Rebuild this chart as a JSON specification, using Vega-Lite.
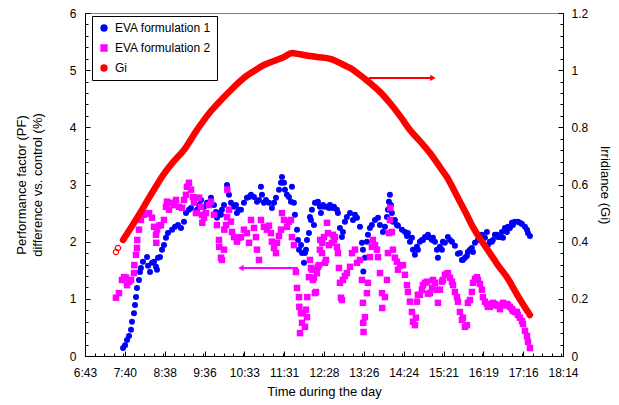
{
  "$schema": "https://vega.github.io/schema/vega-lite/v6.json",
  "width": 478,
  "height": 343,
  "autosize": "none",
  "padding": {"left": 85, "top": 13, "right": 56, "bottom": 49},
  "background": "white",
  "config": {
    "view": {"stroke": "#808080", "strokeWidth": 1},
    "font": "Liberation Sans",
    "axis": {
      "labelFont": "Liberation Sans",
      "titleFont": "Liberation Sans",
      "labelColor": "black",
      "titleColor": "black",
      "domainColor": "black",
      "tickColor": "black",
      "grid": false,
      "labelFontSize": 12,
      "titleFontSize": 13,
      "titleFontWeight": "normal",
      "labelOverlap": false,
      "labelFlush": false
    }
  },
  "datasets": {
    "eva1": [
      {"t":0.3182,"v":0.14},{"t":0.3202,"v":0.19},{"t":0.3222,"v":0.28},{"t":0.3242,"v":0.35},{"t":0.3262,"v":0.46},{"t":0.3272,"v":0.60},{"t":0.3292,"v":0.75},{"t":0.3302,"v":0.89},{"t":0.3312,"v":1.03},{"t":0.3322,"v":1.19},{"t":0.3342,"v":1.33},{"t":0.3352,"v":1.47},{"t":0.3362,"v":1.54},{"t":0.3382,"v":1.65},{"t":0.3423,"v":1.73},{"t":0.3433,"v":1.58},{"t":0.3453,"v":1.47},{"t":0.3473,"v":1.63},{"t":0.3493,"v":1.65},{"t":0.3513,"v":1.56},{"t":0.3523,"v":1.51},{"t":0.3533,"v":1.72},{"t":0.3553,"v":1.73},{"t":0.3573,"v":1.86},{"t":0.3593,"v":1.94},{"t":0.3613,"v":2.07},{"t":0.3633,"v":2.15},{"t":0.3674,"v":2.21},{"t":0.3704,"v":2.26},{"t":0.3734,"v":2.29},{"t":0.3764,"v":2.24},{"t":0.3794,"v":2.35},{"t":0.3814,"v":2.50},{"t":0.3844,"v":2.56},{"t":0.3864,"v":2.59},{"t":0.3894,"v":2.68},{"t":0.3925,"v":2.56},{"t":0.3945,"v":2.64},{"t":0.3965,"v":2.73},{"t":0.3995,"v":2.61},{"t":0.4025,"v":2.68},{"t":0.4065,"v":2.77},{"t":0.4095,"v":2.64},{"t":0.4115,"v":2.52},{"t":0.4125,"v":2.42},{"t":0.4145,"v":2.50},{"t":0.4165,"v":2.47},{"t":0.4175,"v":2.56},{"t":0.4196,"v":2.64},{"t":0.4226,"v":2.99},{"t":0.4246,"v":2.82},{"t":0.4266,"v":2.68},{"t":0.4296,"v":2.61},{"t":0.4316,"v":2.64},{"t":0.4326,"v":2.50},{"t":0.4346,"v":2.56},{"t":0.4366,"v":2.56},{"t":0.4396,"v":2.68},{"t":0.4426,"v":2.77},{"t":0.4447,"v":2.78},{"t":0.4467,"v":2.82},{"t":0.4497,"v":2.78},{"t":0.4527,"v":2.70},{"t":0.4547,"v":2.73},{"t":0.4567,"v":2.96},{"t":0.4577,"v":2.82},{"t":0.4597,"v":2.68},{"t":0.4617,"v":2.73},{"t":0.4647,"v":2.68},{"t":0.4677,"v":2.59},{"t":0.4698,"v":2.68},{"t":0.4718,"v":2.77},{"t":0.4748,"v":2.91},{"t":0.4768,"v":3.03},{"t":0.4778,"v":3.13},{"t":0.4798,"v":3.03},{"t":0.4808,"v":2.91},{"t":0.4828,"v":2.82},{"t":0.4848,"v":2.78},{"t":0.4868,"v":2.70},{"t":0.4878,"v":2.96},{"t":0.4898,"v":2.68},{"t":0.4908,"v":2.47},{"t":0.4929,"v":2.21},{"t":0.4939,"v":2.03},{"t":0.4949,"v":1.86},{"t":0.4969,"v":1.94},{"t":0.4979,"v":1.80},{"t":0.4999,"v":1.63},{"t":0.5009,"v":1.80},{"t":0.5019,"v":1.86},{"t":0.5029,"v":2.03},{"t":0.5049,"v":2.15},{"t":0.5059,"v":2.43},{"t":0.5069,"v":2.38},{"t":0.5079,"v":2.56},{"t":0.5099,"v":2.29},{"t":0.5109,"v":2.68},{"t":0.5129,"v":2.68},{"t":0.5139,"v":2.70},{"t":0.5159,"v":2.61},{"t":0.5169,"v":2.50},{"t":0.5190,"v":2.64},{"t":0.5200,"v":2.61},{"t":0.5230,"v":2.61},{"t":0.5250,"v":2.59},{"t":0.5260,"v":2.64},{"t":0.5290,"v":2.59},{"t":0.5300,"v":2.61},{"t":0.5330,"v":2.56},{"t":0.5340,"v":2.50},{"t":0.5360,"v":2.24},{"t":0.5380,"v":2.08},{"t":0.5390,"v":2.17},{"t":0.5410,"v":2.35},{"t":0.5430,"v":2.43},{"t":0.5461,"v":2.50},{"t":0.5491,"v":2.38},{"t":0.5511,"v":2.47},{"t":0.5531,"v":2.42},{"t":0.5561,"v":2.26},{"t":0.5581,"v":1.98},{"t":0.5591,"v":1.86},{"t":0.5595,"v":1.48},{"t":0.5611,"v":1.72},{"t":0.5631,"v":2.00},{"t":0.5641,"v":2.12},{"t":0.5661,"v":2.24},{"t":0.5681,"v":2.29},{"t":0.5712,"v":2.38},{"t":0.5742,"v":2.42},{"t":0.5762,"v":2.29},{"t":0.5792,"v":2.17},{"t":0.5812,"v":2.26},{"t":0.5832,"v":2.43},{"t":0.5842,"v":2.56},{"t":0.5852,"v":2.70},{"t":0.5862,"v":2.82},{"t":0.5872,"v":2.64},{"t":0.5882,"v":2.50},{"t":0.5892,"v":2.35},{"t":0.5912,"v":2.38},{"t":0.5932,"v":2.29},{"t":0.5943,"v":2.28},{"t":0.5983,"v":2.21},{"t":0.6013,"v":2.17},{"t":0.6033,"v":2.10},{"t":0.6043,"v":2.15},{"t":0.6063,"v":2.00},{"t":0.6083,"v":2.07},{"t":0.6093,"v":1.86},{"t":0.6113,"v":1.77},{"t":0.6133,"v":1.91},{"t":0.6143,"v":1.86},{"t":0.6163,"v":2.00},{"t":0.6183,"v":2.03},{"t":0.6194,"v":2.03},{"t":0.6214,"v":2.08},{"t":0.6234,"v":2.08},{"t":0.6244,"v":2.12},{"t":0.6264,"v":2.07},{"t":0.6284,"v":2.03},{"t":0.6294,"v":2.07},{"t":0.6314,"v":2.00},{"t":0.6334,"v":1.86},{"t":0.6344,"v":1.72},{"t":0.6364,"v":1.91},{"t":0.6384,"v":1.86},{"t":0.6394,"v":2.00},{"t":0.6414,"v":1.98},{"t":0.6444,"v":2.08},{"t":0.6465,"v":2.03},{"t":0.6485,"v":2.00},{"t":0.6515,"v":1.93},{"t":0.6545,"v":1.79},{"t":0.6565,"v":1.80},{"t":0.6585,"v":1.68},{"t":0.6595,"v":1.68},{"t":0.6615,"v":1.72},{"t":0.6635,"v":1.75},{"t":0.6645,"v":1.82},{"t":0.6665,"v":1.86},{"t":0.6685,"v":1.89},{"t":0.6696,"v":1.82},{"t":0.6716,"v":1.98},{"t":0.6746,"v":2.03},{"t":0.6766,"v":2.08},{"t":0.6786,"v":2.12},{"t":0.6816,"v":2.07},{"t":0.6836,"v":2.17},{"t":0.6846,"v":1.94},{"t":0.6866,"v":2.00},{"t":0.6886,"v":2.00},{"t":0.6896,"v":2.03},{"t":0.6916,"v":2.12},{"t":0.6936,"v":2.12},{"t":0.6946,"v":2.08},{"t":0.6967,"v":2.08},{"t":0.6987,"v":2.17},{"t":0.6997,"v":2.07},{"t":0.7017,"v":2.24},{"t":0.7037,"v":2.17},{"t":0.7047,"v":2.26},{"t":0.7067,"v":2.24},{"t":0.7087,"v":2.33},{"t":0.7097,"v":2.29},{"t":0.7117,"v":2.35},{"t":0.7147,"v":2.35},{"t":0.7167,"v":2.33},{"t":0.7188,"v":2.31},{"t":0.7218,"v":2.26},{"t":0.7238,"v":2.21},{"t":0.7248,"v":2.15},{"t":0.7268,"v":2.10}
    ],
    "eva2": [
      {"t":0.3111,"v":1.02},{"t":0.3141,"v":1.10},{"t":0.3171,"v":1.33},{"t":0.3192,"v":1.38},{"t":0.3212,"v":1.37},{"t":0.3222,"v":1.24},{"t":0.3242,"v":1.30},{"t":0.3262,"v":1.33},{"t":0.3292,"v":1.45},{"t":0.3295,"v":1.59},{"t":0.3312,"v":1.77},{"t":0.3322,"v":1.89},{"t":0.3325,"v":2.03},{"t":0.3342,"v":2.21},{"t":0.3362,"v":2.38},{"t":0.3392,"v":2.47},{"t":0.3423,"v":2.49},{"t":0.3443,"v":2.50},{"t":0.3473,"v":2.42},{"t":0.3493,"v":2.26},{"t":0.3513,"v":2.12},{"t":0.3516,"v":1.98},{"t":0.3523,"v":2.21},{"t":0.3543,"v":2.28},{"t":0.3563,"v":2.29},{"t":0.3593,"v":2.38},{"t":0.3613,"v":2.61},{"t":0.3623,"v":2.70},{"t":0.3643,"v":2.56},{"t":0.3674,"v":2.68},{"t":0.3694,"v":2.64},{"t":0.3714,"v":2.73},{"t":0.3744,"v":2.61},{"t":0.3774,"v":2.59},{"t":0.3794,"v":2.73},{"t":0.3814,"v":2.82},{"t":0.3824,"v":2.96},{"t":0.3844,"v":3.03},{"t":0.3864,"v":2.91},{"t":0.3884,"v":2.78},{"t":0.3894,"v":2.68},{"t":0.3914,"v":2.50},{"t":0.3945,"v":2.77},{"t":0.3965,"v":2.61},{"t":0.3975,"v":2.47},{"t":0.3978,"v":2.33},{"t":0.3995,"v":2.42},{"t":0.4015,"v":2.50},{"t":0.4045,"v":2.64},{"t":0.4065,"v":2.70},{"t":0.4095,"v":2.47},{"t":0.4125,"v":2.29},{"t":0.4145,"v":2.03},{"t":0.4148,"v":1.91},{"t":0.4165,"v":1.72},{"t":0.4175,"v":1.68},{"t":0.4196,"v":1.86},{"t":0.4199,"v":2.21},{"t":0.4216,"v":2.29},{"t":0.4226,"v":2.43},{"t":0.4229,"v":2.91},{"t":0.4246,"v":2.56},{"t":0.4266,"v":2.35},{"t":0.4276,"v":2.17},{"t":0.4296,"v":2.08},{"t":0.4326,"v":2.00},{"t":0.4346,"v":2.07},{"t":0.4366,"v":2.08},{"t":0.4396,"v":2.21},{"t":0.4426,"v":2.15},{"t":0.4447,"v":1.98},{"t":0.4467,"v":2.38},{"t":0.4497,"v":2.24},{"t":0.4517,"v":2.08},{"t":0.4527,"v":1.86},{"t":0.4547,"v":1.68},{"t":0.4567,"v":2.38},{"t":0.4597,"v":2.26},{"t":0.4627,"v":2.21},{"t":0.4647,"v":2.28},{"t":0.4667,"v":2.15},{"t":0.4677,"v":2.00},{"t":0.4698,"v":1.89},{"t":0.4718,"v":1.80},{"t":0.4728,"v":1.98},{"t":0.4748,"v":2.10},{"t":0.4768,"v":2.21},{"t":0.4778,"v":2.50},{"t":0.4798,"v":2.38},{"t":0.4828,"v":2.26},{"t":0.4848,"v":2.35},{"t":0.4868,"v":2.38},{"t":0.4878,"v":2.08},{"t":0.4898,"v":1.94},{"t":0.4918,"v":1.47},{"t":0.4929,"v":1.19},{"t":0.4949,"v":1.03},{"t":0.4952,"v":0.86},{"t":0.4959,"v":0.40},{"t":0.4969,"v":0.75},{"t":0.4979,"v":0.58},{"t":0.4989,"v":0.75},{"t":0.5009,"v":0.51},{"t":0.5019,"v":0.81},{"t":0.5029,"v":0.68},{"t":0.5032,"v":1.03},{"t":0.5049,"v":1.38},{"t":0.5059,"v":1.68},{"t":0.5069,"v":1.54},{"t":0.5079,"v":1.51},{"t":0.5089,"v":1.33},{"t":0.5099,"v":1.37},{"t":0.5109,"v":1.10},{"t":0.5119,"v":1.12},{"t":0.5129,"v":1.45},{"t":0.5139,"v":1.56},{"t":0.5149,"v":1.59},{"t":0.5159,"v":1.86},{"t":0.5162,"v":2.03},{"t":0.5180,"v":1.80},{"t":0.5183,"v":1.98},{"t":0.5200,"v":2.08},{"t":0.5210,"v":1.63},{"t":0.5220,"v":1.68},{"t":0.5230,"v":2.33},{"t":0.5240,"v":2.15},{"t":0.5250,"v":1.94},{"t":0.5280,"v":1.98},{"t":0.5290,"v":2.12},{"t":0.5300,"v":2.03},{"t":0.5310,"v":2.08},{"t":0.5330,"v":1.91},{"t":0.5340,"v":1.80},{"t":0.5350,"v":1.54},{"t":0.5360,"v":1.28},{"t":0.5370,"v":1.02},{"t":0.5380,"v":0.98},{"t":0.5390,"v":1.33},{"t":0.5410,"v":1.40},{"t":0.5430,"v":1.45},{"t":0.5461,"v":1.56},{"t":0.5481,"v":1.80},{"t":0.5511,"v":1.86},{"t":0.5531,"v":1.63},{"t":0.5561,"v":1.68},{"t":0.5581,"v":1.33},{"t":0.5591,"v":0.93},{"t":0.5594,"v":0.58},{"t":0.5597,"v":0.42},{"t":0.5611,"v":0.68},{"t":0.5631,"v":1.10},{"t":0.5641,"v":1.28},{"t":0.5661,"v":1.73},{"t":0.5681,"v":1.91},{"t":0.5691,"v":2.03},{"t":0.5712,"v":1.94},{"t":0.5732,"v":1.86},{"t":0.5742,"v":1.73},{"t":0.5762,"v":1.45},{"t":0.5782,"v":1.10},{"t":0.5785,"v":0.84},{"t":0.5812,"v":1.03},{"t":0.5832,"v":1.33},{"t":0.5842,"v":1.80},{"t":0.5852,"v":2.15},{"t":0.5862,"v":2.38},{"t":0.5865,"v":2.59},{"t":0.5882,"v":2.17},{"t":0.5892,"v":1.86},{"t":0.5912,"v":1.72},{"t":0.5932,"v":1.65},{"t":0.5943,"v":1.51},{"t":0.5963,"v":1.58},{"t":0.5993,"v":1.59},{"t":0.6013,"v":1.42},{"t":0.6033,"v":1.24},{"t":0.6043,"v":1.12},{"t":0.6063,"v":0.95},{"t":0.6083,"v":0.77},{"t":0.6093,"v":0.60},{"t":0.6113,"v":0.54},{"t":0.6123,"v":0.67},{"t":0.6133,"v":0.95},{"t":0.6143,"v":1.07},{"t":0.6163,"v":1.07},{"t":0.6183,"v":1.16},{"t":0.6194,"v":1.24},{"t":0.6214,"v":1.28},{"t":0.6234,"v":1.30},{"t":0.6244,"v":1.09},{"t":0.6264,"v":1.10},{"t":0.6284,"v":1.19},{"t":0.6294,"v":1.33},{"t":0.6314,"v":1.28},{"t":0.6334,"v":1.16},{"t":0.6344,"v":0.93},{"t":0.6364,"v":1.16},{"t":0.6384,"v":1.30},{"t":0.6394,"v":1.33},{"t":0.6414,"v":1.42},{"t":0.6434,"v":1.44},{"t":0.6444,"v":1.45},{"t":0.6465,"v":1.37},{"t":0.6485,"v":1.30},{"t":0.6495,"v":1.24},{"t":0.6515,"v":1.12},{"t":0.6535,"v":1.03},{"t":0.6545,"v":0.95},{"t":0.6565,"v":0.77},{"t":0.6585,"v":0.63},{"t":0.6595,"v":0.67},{"t":0.6615,"v":0.51},{"t":0.6635,"v":0.54},{"t":0.6645,"v":0.93},{"t":0.6665,"v":0.98},{"t":0.6685,"v":1.12},{"t":0.6696,"v":1.28},{"t":0.6716,"v":1.35},{"t":0.6736,"v":1.38},{"t":0.6746,"v":1.33},{"t":0.6766,"v":1.26},{"t":0.6786,"v":1.16},{"t":0.6796,"v":1.03},{"t":0.6816,"v":0.95},{"t":0.6836,"v":0.91},{"t":0.6846,"v":0.86},{"t":0.6866,"v":0.86},{"t":0.6886,"v":0.89},{"t":0.6896,"v":0.93},{"t":0.6916,"v":0.91},{"t":0.6936,"v":0.89},{"t":0.6946,"v":0.88},{"t":0.6967,"v":0.82},{"t":0.6987,"v":0.89},{"t":0.6997,"v":0.93},{"t":0.7017,"v":0.89},{"t":0.7037,"v":0.91},{"t":0.7047,"v":0.89},{"t":0.7067,"v":0.86},{"t":0.7087,"v":0.82},{"t":0.7097,"v":0.79},{"t":0.7117,"v":0.77},{"t":0.7137,"v":0.77},{"t":0.7147,"v":0.72},{"t":0.7167,"v":0.67},{"t":0.7188,"v":0.61},{"t":0.7198,"v":0.56},{"t":0.7218,"v":0.44},{"t":0.7238,"v":0.35},{"t":0.7248,"v":0.25},{"t":0.7268,"v":0.14}
    ],
    "giLine": [
      {"t":0.3182,"v":0.406},{"t":0.3272,"v":0.455},{"t":0.3372,"v":0.511},{"t":0.3423,"v":0.542},{"t":0.3503,"v":0.588},{"t":0.3593,"v":0.637},{"t":0.3704,"v":0.686},{"t":0.3794,"v":0.721},{"t":0.3925,"v":0.791},{"t":0.4065,"v":0.857},{"t":0.4196,"v":0.906},{"t":0.4296,"v":0.941},{"t":0.4396,"v":0.973},{"t":0.4497,"v":0.997},{"t":0.4597,"v":1.018},{"t":0.4698,"v":1.032},{"t":0.4798,"v":1.046},{"t":0.4878,"v":1.060},{"t":0.4939,"v":1.057},{"t":0.4999,"v":1.053},{"t":0.5129,"v":1.046},{"t":0.5270,"v":1.039},{"t":0.5400,"v":1.018},{"t":0.5461,"v":1.008},{"t":0.5561,"v":0.983},{"t":0.5661,"v":0.955},{"t":0.5762,"v":0.924},{"t":0.5862,"v":0.885},{"t":0.5963,"v":0.840},{"t":0.6063,"v":0.791},{"t":0.6163,"v":0.752},{"t":0.6264,"v":0.710},{"t":0.6364,"v":0.661},{"t":0.6434,"v":0.626},{"t":0.6535,"v":0.560},{"t":0.6615,"v":0.507},{"t":0.6696,"v":0.451},{"t":0.6776,"v":0.406},{"t":0.6866,"v":0.360},{"t":0.6946,"v":0.318},{"t":0.7037,"v":0.276},{"t":0.7147,"v":0.210},{"t":0.7268,"v":0.143}
    ],
    "giPts": [
      {"t":0.3111,"v":0.364},{"t":0.3131,"v":0.378}
    ],
    "arrowPF": [{"t":0.4366,"t2":0.4939,"v":1.54}],
    "arrowGi": [{"t":0.6294,"t2":0.5651,"v":0.973}]
  },
  "encoding": {
    "x": {
      "field": "t",
      "type": "quantitative",
      "scale": {"domain": [0.28, 0.76], "nice": false, "zero": false},
      "axis": {
        "title": "Time during the day",
        "values": [0.28,0.2896,0.2992,0.3088,0.3184,0.32,0.3296,0.3392,0.3488,0.3584,0.36,0.3696,0.3792,0.3888,0.3984,0.40,0.4096,0.4192,0.4288,0.4384,0.44,0.4496,0.4592,0.4688,0.4784,0.48,0.4896,0.4992,0.5088,0.5184,0.52,0.5296,0.5392,0.5488,0.5584,0.56,0.5696,0.5792,0.5888,0.5984,0.60,0.6096,0.6192,0.6288,0.6384,0.64,0.6496,0.6592,0.6688,0.6784,0.68,0.6896,0.6992,0.7088,0.7184,0.72,0.7296,0.7392,0.7488,0.7584,0.76],
        "labelExpr": "abs(datum.value*25-round(datum.value*25))<1e-6 ? floor(datum.value*24)+':'+floor((datum.value*24-floor(datum.value*24))*60+1e-6) : ''",
        "tickSize": {"condition": {"test": "abs(datum.value*25-round(datum.value*25))<1e-6", "value": -5}, "value": -3},
        "labelPadding": 16,
        "titlePadding": 5
      }
    }
  },
  "layer": [
    {
      "encoding": {
        "y": {
          "field": "v",
          "type": "quantitative",
          "scale": {"domain": [0, 6], "nice": false},
          "axis": {
            "orient": "left",
            "title": ["Performance factor (PF)", "difference vs. control (%)"],
            "titleLineHeight": 16,
            "values": [0,0.2,0.4,0.6,0.8,1,1.2,1.4,1.6,1.8,2,2.2,2.4,2.6,2.8,3,3.2,3.4,3.6,3.8,4,4.2,4.4,4.6,4.8,5,5.2,5.4,5.6,5.8,6],
            "labelExpr": "abs(datum.value-round(datum.value))<1e-6 ? '' + datum.value : ''",
            "tickSize": {"condition": {"test": "abs(datum.value-round(datum.value))<1e-6", "value": -5}, "value": -3},
            "labelPadding": 14,
            "titlePadding": 25
          }
        }
      },
      "layer": [
        {
          "data": {"name": "eva1"},
          "mark": {"type": "point", "filled": true, "size": 36, "opacity": 1},
          "encoding": {
            "color": {
              "datum": "EVA formulation 1",
              "scale": {"domain": ["EVA formulation 1", "EVA formulation 2", "Gi"], "range": ["#0000FF", "#FF00FF", "#FF0000"]},
              "legend": {
                "title": null,
                "orient": "none",
                "legendX": 7,
                "legendY": 3,
                "padding": 6,
                "rowPadding": 8,
                "strokeColor": "black",
                "fillColor": "white",
                "labelFont": "Liberation Sans",
                "labelFontSize": 12,
                "labelColor": "black",
                "labelOffset": 5,
                "labelLimit": 200,
                "symbolSize": 34
              }
            },
            "shape": {
              "datum": "EVA formulation 1",
              "scale": {"domain": ["EVA formulation 1", "EVA formulation 2", "Gi"], "range": ["circle", "square", "circle"]},
              "legend": null
            }
          }
        },
        {
          "data": {"name": "eva2"},
          "mark": {"type": "point", "filled": true, "size": 42, "opacity": 1},
          "encoding": {
            "color": {"datum": "EVA formulation 2", "legend": null},
            "shape": {"datum": "EVA formulation 2", "legend": null}
          }
        },
        {
          "data": {"name": "arrowPF"},
          "mark": {"type": "rule", "color": "#FF00FF", "strokeWidth": 2},
          "encoding": {"x2": {"field": "t2"}}
        },
        {
          "data": {"name": "arrowPF"},
          "mark": {"type": "point", "shape": "triangle-left", "filled": true, "color": "#FF00FF", "size": 40, "opacity": 1},
          "encoding": {}
        }
      ]
    },
    {
      "encoding": {
        "y": {
          "field": "v",
          "type": "quantitative",
          "scale": {"domain": [0, 1.2], "nice": false},
          "axis": {
            "orient": "right",
            "title": "Irridiance (Gi)",
            "values": [0,0.04,0.08,0.12,0.16,0.2,0.24,0.28,0.32,0.36,0.4,0.44,0.48,0.52,0.56,0.6,0.64,0.68,0.72,0.76,0.8,0.84,0.88,0.92,0.96,1,1.04,1.08,1.12,1.16,1.2],
            "labelExpr": "abs(datum.value*5-round(datum.value*5))<1e-6 ? '' + datum.value : ''",
            "tickSize": {"condition": {"test": "abs(datum.value*5-round(datum.value*5))<1e-6", "value": -5}, "value": -3},
            "labelPadding": 13,
            "titlePadding": 10
          }
        }
      },
      "layer": [
        {
          "data": {"name": "giLine"},
          "mark": {"type": "line", "color": "#FF0000", "strokeWidth": 6.5, "strokeCap": "round", "strokeJoin": "round", "interpolate": "monotone"},
          "encoding": {}
        },
        {
          "data": {"name": "giPts"},
          "mark": {"type": "point", "filled": false, "size": 28, "strokeWidth": 1.2, "opacity": 1},
          "encoding": {
            "color": {"datum": "Gi", "legend": null},
            "shape": {"datum": "Gi", "legend": null}
          }
        },
        {
          "data": {"name": "arrowGi"},
          "mark": {"type": "rule", "color": "#FF0000", "strokeWidth": 2},
          "encoding": {"x2": {"field": "t2"}}
        },
        {
          "data": {"name": "arrowGi"},
          "mark": {"type": "point", "shape": "triangle-right", "filled": true, "color": "#FF0000", "size": 40, "opacity": 1},
          "encoding": {}
        }
      ]
    }
  ],
  "resolve": {"scale": {"y": "independent"}}
}
